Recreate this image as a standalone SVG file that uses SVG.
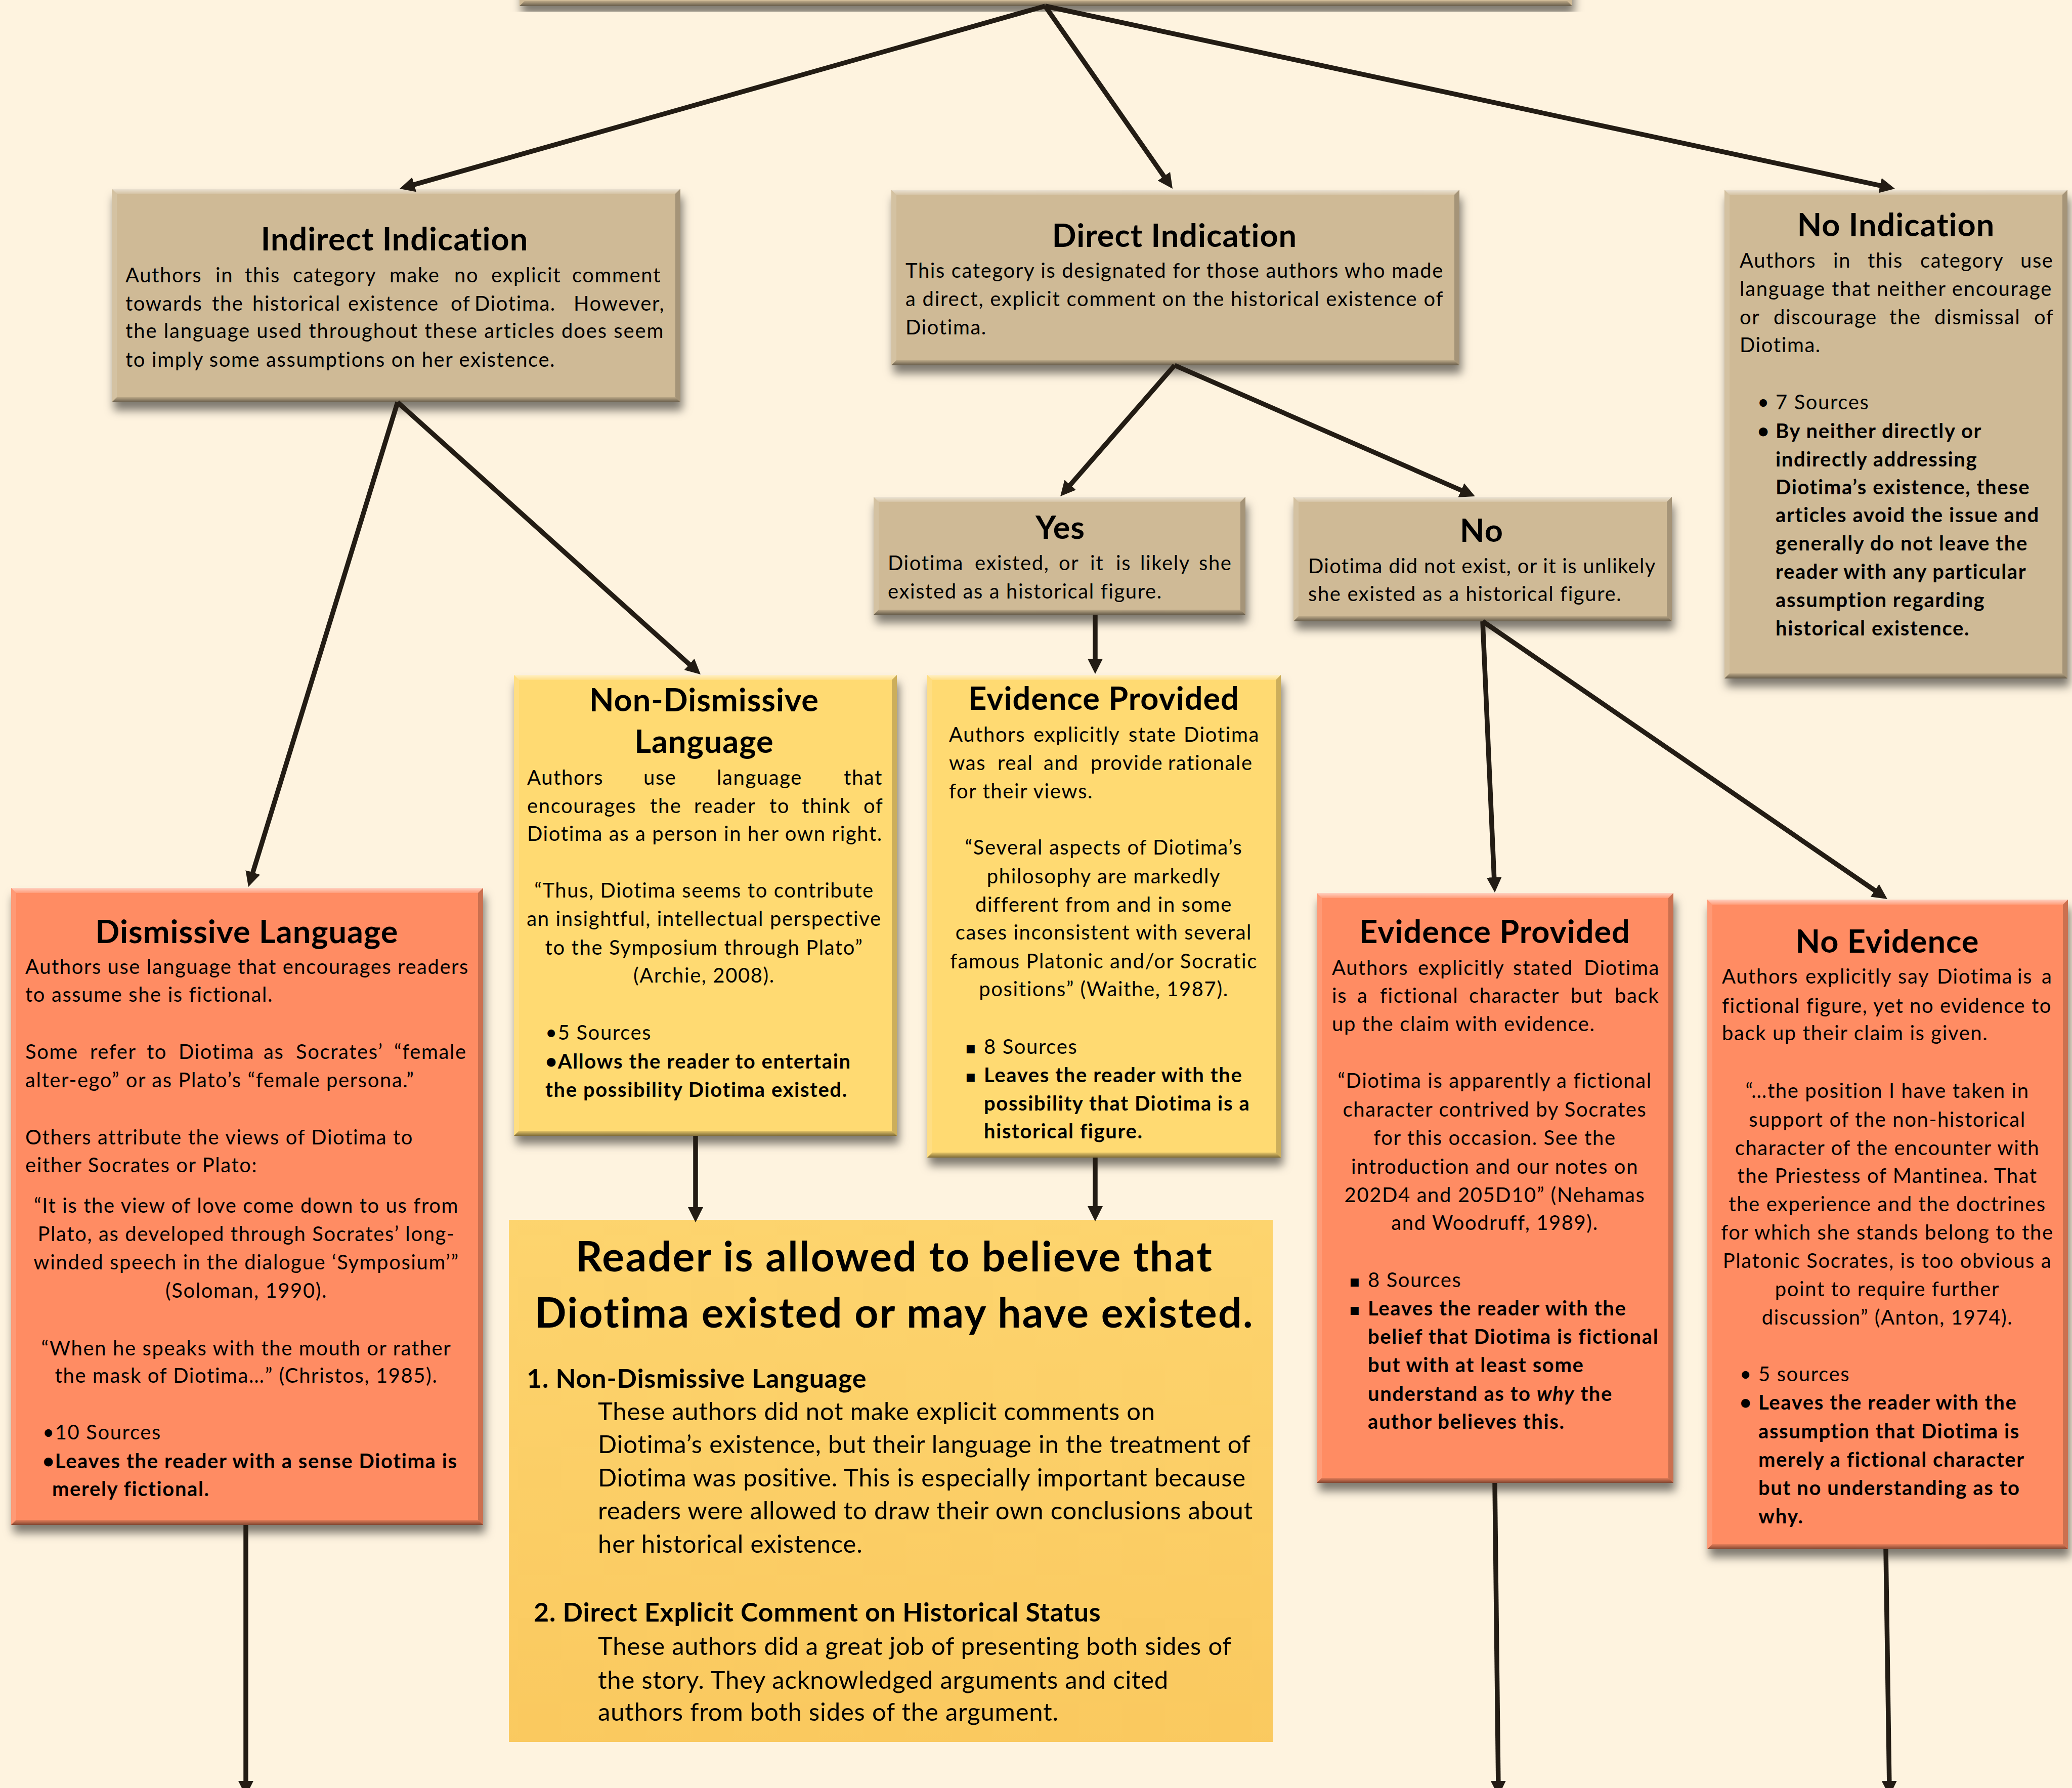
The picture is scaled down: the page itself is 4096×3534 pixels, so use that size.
<svg xmlns="http://www.w3.org/2000/svg" width="4096" height="3534" viewBox="0 0 4096 3534">
<defs>
<style>
text{font-family:Lato,'Open Sans','DejaVu Sans',sans-serif;fill:#000}
.h{font-size:63px;font-weight:bold;text-anchor:middle;letter-spacing:1px}
.b{font-size:40px;letter-spacing:1.6px}
.bb{font-size:40px;font-weight:bold;letter-spacing:1.6px}
.c{text-anchor:middle}
.sq{font-family:'DejaVu Sans',sans-serif;font-size:32px}
.bt{font-size:82px;font-weight:bold;text-anchor:middle;letter-spacing:2.4px}
.bh{font-size:52px;font-weight:bold;letter-spacing:0.8px}
.bx{font-size:49px;letter-spacing:0.8px}
.tan{fill:#CFBA96}
.yel{fill:#FFDA72}
.ora{fill:#FF8C64}
.bvT{fill:url(#gT)}
.bvB{fill:url(#gB)}
.bvL{fill:#fff;fill-opacity:0.12}
.bvR{fill:#000;fill-opacity:0.2}
.con line{stroke:#231C14;stroke-width:9.5;fill:none;marker-end:url(#ah)}
</style>
<linearGradient id="gT" x1="0" y1="0" x2="0" y2="1"><stop offset="0" stop-color="#fff" stop-opacity="0.6"/><stop offset="1" stop-color="#fff" stop-opacity="0.15"/></linearGradient>
<linearGradient id="gB" x1="0" y1="0" x2="0" y2="1"><stop offset="0" stop-color="#000" stop-opacity="0.1"/><stop offset="1" stop-color="#000" stop-opacity="0.5"/></linearGradient>
<linearGradient id="gBig" x1="0" y1="0" x2="0" y2="1"><stop offset="0" stop-color="#FDD46E"/><stop offset="1" stop-color="#FAC95F"/></linearGradient>
<filter id="sh" x="-5%" y="-5%" width="112%" height="120%"><feDropShadow dx="4" dy="16" stdDeviation="9" flood-color="#000" flood-opacity="0.5"/></filter>
<marker id="ah" viewBox="0 0 30 30" refX="15" refY="15" markerUnits="userSpaceOnUse" markerWidth="30" markerHeight="30" orient="auto"><path d="M0,0 L30,15 L0,30 z" fill="#231C14"/></marker>
</defs>
<rect x="0" y="0" width="4096" height="3534" fill="#FEF3DF"/>

<g id="top">
<rect class="tan" x="1027" y="-60" width="2081" height="72" filter="url(#sh)"/>
<polygon class="bvB" points="1027,12 3108,12 3098,2 1037,2"/>
</g>

<g id="indirect">
<rect class="tan" x="221" y="373" width="1124" height="422" filter="url(#sh)"/>
<polygon class="bvT" points="221,373 1345,373 1335,383 231,383"/>
<polygon class="bvB" points="221,795 1345,795 1335,785 231,785"/>
<polygon class="bvL" points="221,373 231,383 231,785 221,795"/>
<polygon class="bvR" points="1345,373 1335,383 1335,785 1345,795"/>
<text class="h" x="780" y="495">Indirect Indication</text>
<text class="b" y="558"><tspan x="248">Authors</tspan> <tspan x="426">in</tspan> <tspan x="484">this</tspan> <tspan x="579">category</tspan> <tspan x="770">make</tspan> <tspan x="898">no</tspan> <tspan x="971">explicit</tspan> <tspan x="1131">comment</tspan></text>
<text class="b" y="614"><tspan x="248">towards</tspan> <tspan x="419">the</tspan> <tspan x="499">historical</tspan> <tspan x="688">existence</tspan> <tspan x="891">of</tspan> <tspan x="938">Diotima.</tspan> <tspan x="1134">However,</tspan></text>
<text class="b" x="248" y="668" textLength="1065" lengthAdjust="spacing">the language used throughout these articles does seem</text>
<text class="b" x="248" y="725">to imply some assumptions on her existence.</text>
</g>

<g id="direct">
<rect class="tan" x="1762" y="375" width="1123" height="347" filter="url(#sh)"/>
<polygon class="bvT" points="1762,375 2885,375 2875,385 1772,385"/>
<polygon class="bvB" points="1762,722 2885,722 2875,712 1772,712"/>
<polygon class="bvL" points="1762,375 1772,385 1772,712 1762,722"/>
<polygon class="bvR" points="2885,375 2875,385 2875,712 2885,722"/>
<text class="h" x="2322" y="488">Direct Indication</text>
<text class="b" x="1790" y="549" textLength="1064" lengthAdjust="spacing">This category is designated for those authors who made</text>
<text class="b" x="1790" y="605" textLength="1064" lengthAdjust="spacing">a direct, explicit comment on the historical existence of</text>
<text class="b" x="1790" y="661">Diotima.</text>
</g>

<g id="noind">
<rect class="tan" x="3409" y="375" width="678" height="966" filter="url(#sh)"/>
<polygon class="bvT" points="3409,375 4087,375 4077,385 3419,385"/>
<polygon class="bvB" points="3409,1341 4087,1341 4077,1331 3419,1331"/>
<polygon class="bvL" points="3409,375 3419,385 3419,1331 3409,1341"/>
<polygon class="bvR" points="4087,375 4077,385 4077,1331 4087,1341"/>
<text class="h" x="3748" y="467">No Indication</text>
<text class="b" y="529"><tspan x="3439">Authors</tspan> <tspan x="3624">in</tspan> <tspan x="3692">this</tspan> <tspan x="3796">category</tspan> <tspan x="3994">use</tspan></text>
<text class="b" x="3439" y="585" textLength="618" lengthAdjust="spacing">language that neither encourage</text>
<text class="b" y="641"><tspan x="3439">or</tspan> <tspan x="3506">discourage</tspan> <tspan x="3735">the</tspan> <tspan x="3824">dismissal</tspan> <tspan x="4021">of</tspan></text>
<text class="b" x="3439" y="696">Diotima.</text>
<text class="b" x="3474" y="809">•</text><text class="b" x="3510" y="809">7 Sources</text>
<text class="bb" x="3474" y="866">•</text>
<text class="bb" x="3510" y="866">By neither directly or</text>
<text class="bb" x="3510" y="922">indirectly addressing</text>
<text class="bb" x="3510" y="977">Diotima’s existence, these</text>
<text class="bb" x="3510" y="1032">articles avoid the issue and</text>
<text class="bb" x="3510" y="1088">generally do not leave the</text>
<text class="bb" x="3510" y="1144">reader with any particular</text>
<text class="bb" x="3510" y="1200">assumption regarding</text>
<text class="bb" x="3510" y="1256">historical existence.</text>
</g>

<g id="yes">
<rect class="tan" x="1727" y="982" width="735" height="233" filter="url(#sh)"/>
<polygon class="bvT" points="1727,982 2462,982 2452,992 1737,992"/>
<polygon class="bvB" points="1727,1215 2462,1215 2452,1205 1737,1205"/>
<polygon class="bvL" points="1727,982 1737,992 1737,1205 1727,1215"/>
<polygon class="bvR" points="2462,982 2452,992 2452,1205 2462,1215"/>
<text class="h" x="2096" y="1065">Yes</text>
<text class="b" y="1127"><tspan x="1755">Diotima</tspan> <tspan x="1927">existed,</tspan> <tspan x="2093">or</tspan> <tspan x="2155">it</tspan> <tspan x="2206">is</tspan> <tspan x="2254">likely</tspan> <tspan x="2370">she</tspan></text>
<text class="b" x="1755" y="1183">existed as a historical figure.</text>
</g>

<g id="no">
<rect class="tan" x="2557" y="982" width="748" height="246" filter="url(#sh)"/>
<polygon class="bvT" points="2557,982 3305,982 3295,992 2567,992"/>
<polygon class="bvB" points="2557,1228 3305,1228 3295,1218 2567,1218"/>
<polygon class="bvL" points="2557,982 2567,992 2567,1218 2557,1228"/>
<polygon class="bvR" points="3305,982 3295,992 3295,1218 3305,1228"/>
<text class="h" x="2929" y="1071">No</text>
<text class="b" x="2586" y="1133" textLength="688" lengthAdjust="spacing">Diotima did not exist, or it is unlikely</text>
<text class="b" x="2586" y="1188">she existed as a historical figure.</text>
</g>

<g id="nondismissive">
<rect class="yel" x="1016" y="1334" width="757" height="911" filter="url(#sh)"/>
<polygon class="bvT" points="1016,1334 1773,1334 1763,1344 1026,1344"/>
<polygon class="bvB" points="1016,2245 1773,2245 1763,2235 1026,2235"/>
<polygon class="bvL" points="1016,1334 1026,1344 1026,2235 1016,2245"/>
<polygon class="bvR" points="1773,1334 1763,1344 1763,2235 1773,2245"/>
<text class="h" x="1392" y="1406">Non-Dismissive</text>
<text class="h" x="1392" y="1488">Language</text>
<text class="b" y="1551"><tspan x="1042">Authors</tspan> <tspan x="1272">use</tspan> <tspan x="1417">language</tspan> <tspan x="1668">that</tspan></text>
<text class="b" y="1607"><tspan x="1042">encourages</tspan> <tspan x="1285">the</tspan> <tspan x="1372">reader</tspan> <tspan x="1521">to</tspan> <tspan x="1585">think</tspan> <tspan x="1707">of</tspan></text>
<text class="b" x="1042" y="1662">Diotima as a person in her own right.</text>
<text class="b c" x="1392" y="1774">“Thus, Diotima seems to contribute</text>
<text class="b c" x="1392" y="1830">an insightful, intellectual perspective</text>
<text class="b c" x="1392" y="1887">to the Symposium through Plato”</text>
<text class="b c" x="1392" y="1942">(Archie, 2008).</text>
<text class="b" x="1078" y="2055">•5 Sources</text>
<text class="bb" x="1078" y="2112">•Allows the reader to entertain</text>
<text class="bb" x="1078" y="2168">the possibility Diotima existed.</text>
</g>

<g id="evidenceyes">
<rect class="yel" x="1833" y="1334" width="699" height="954" filter="url(#sh)"/>
<polygon class="bvT" points="1833,1334 2532,1334 2522,1344 1843,1344"/>
<polygon class="bvB" points="1833,2288 2532,2288 2522,2278 1843,2278"/>
<polygon class="bvL" points="1833,1334 1843,1344 1843,2278 1833,2288"/>
<polygon class="bvR" points="2532,1334 2522,1344 2522,2278 2532,2288"/>
<text class="h" x="2182" y="1403">Evidence Provided</text>
<text class="b" y="1466"><tspan x="1876">Authors</tspan> <tspan x="2043">explicitly</tspan> <tspan x="2231">state</tspan> <tspan x="2340">Diotima</tspan></text>
<text class="b" y="1522"><tspan x="1876">was</tspan> <tspan x="1972">real</tspan> <tspan x="2063">and</tspan> <tspan x="2156">provide</tspan> <tspan x="2309">rationale</tspan></text>
<text class="b" x="1876" y="1578">for their views.</text>
<text class="b c" x="2182" y="1689">“Several aspects of Diotima’s</text>
<text class="b c" x="2182" y="1746">philosophy are markedly</text>
<text class="b c" x="2182" y="1802">different from and in some</text>
<text class="b c" x="2182" y="1857">cases inconsistent with several</text>
<text class="b c" x="2182" y="1914">famous Platonic and/or Socratic</text>
<text class="b c" x="2182" y="1969">positions” (Waithe, 1987).</text>
<text class="sq" x="1908" y="2082">▪</text><text class="b" x="1945" y="2083">8 Sources</text>
<text class="sq" x="1908" y="2138">▪</text>
<text class="bb" x="1945" y="2139">Leaves the reader with the</text>
<text class="bb" x="1945" y="2195">possibility that Diotima is a</text>
<text class="bb" x="1945" y="2250">historical figure.</text>
</g>

<g id="reader">
<rect x="1006" y="2411" width="1510" height="1032" fill="url(#gBig)"/>
<text class="bt" x="1768" y="2513">Reader is allowed to believe that</text>
<text class="bt" x="1768" y="2624">Diotima existed or may have existed.</text>
<text class="bh" x="1041" y="2743">1. Non-Dismissive Language</text>
<text class="bx" x="1182" y="2807">These authors did not make explicit comments on</text>
<text class="bx" x="1182" y="2872">Diotima’s existence, but their language in the treatment of</text>
<text class="bx" x="1182" y="2938">Diotima was positive.  This is especially important because</text>
<text class="bx" x="1182" y="3003">readers were allowed to draw their own conclusions about</text>
<text class="bx" x="1182" y="3069">her historical existence.</text>
<text class="bh" x="1055" y="3205">2. Direct Explicit Comment on Historical Status</text>
<text class="bx" x="1182" y="3271">These authors did a great job of presenting both sides of</text>
<text class="bx" x="1182" y="3338">the story.  They acknowledged arguments and cited</text>
<text class="bx" x="1182" y="3401">authors from both sides of the argument.</text>
</g>

<g id="dismissive">
<rect class="ora" x="22" y="1755" width="933" height="1259" filter="url(#sh)"/>
<polygon class="bvT" points="22,1755 955,1755 945,1765 32,1765"/>
<polygon class="bvB" points="22,3014 955,3014 945,3004 32,3004"/>
<polygon class="bvL" points="22,1755 32,1765 32,3004 22,3014"/>
<polygon class="bvR" points="955,1755 945,1765 945,3004 955,3014"/>
<text class="h" x="488" y="1864">Dismissive Language</text>
<text class="b" x="50" y="1925" textLength="877" lengthAdjust="spacing">Authors use language that encourages readers</text>
<text class="b" x="50" y="1980">to assume she is fictional.</text>
<text class="b" y="2093"><tspan x="50">Some</tspan> <tspan x="178">refer</tspan> <tspan x="290">to</tspan> <tspan x="353">Diotima</tspan> <tspan x="521">as</tspan> <tspan x="585">Socrates’</tspan> <tspan x="779">“female</tspan></text>
<text class="b" x="50" y="2149">alter-ego” or as Plato’s “female persona.”</text>
<text class="b" x="50" y="2262">Others attribute the views of Diotima to</text>
<text class="b" x="50" y="2317">either Socrates or Plato:</text>
<text class="b c" x="487" y="2397">“It is the view of love come down to us from</text>
<text class="b c" x="487" y="2453">Plato, as developed through Socrates’ long-</text>
<text class="b c" x="487" y="2509">winded speech in the dialogue ‘Symposium’”</text>
<text class="b c" x="487" y="2565">(Soloman, 1990).</text>
<text class="b c" x="487" y="2679">“When he speaks with the mouth or rather</text>
<text class="b c" x="487" y="2733">the mask of Diotima…” (Christos, 1985).</text>
<text class="b" x="84" y="2845">•10 Sources</text>
<text class="bb" x="84" y="2902">•Leaves the reader with a sense Diotima is</text>
<text class="bb" x="103" y="2957">merely fictional.</text>
</g>

<g id="evidenceno">
<rect class="ora" x="2603" y="1765" width="705" height="1166" filter="url(#sh)"/>
<polygon class="bvT" points="2603,1765 3308,1765 3298,1775 2613,1775"/>
<polygon class="bvB" points="2603,2931 3308,2931 3298,2921 2613,2921"/>
<polygon class="bvL" points="2603,1765 2613,1775 2613,2921 2603,2931"/>
<polygon class="bvR" points="3308,1765 3298,1775 3298,2921 3308,2931"/>
<text class="h" x="2955" y="1864">Evidence Provided</text>
<text class="b" y="1927"><tspan x="2633">Authors</tspan> <tspan x="2803">explicitly</tspan> <tspan x="2991">stated</tspan> <tspan x="3131">Diotima</tspan></text>
<text class="b" y="1982"><tspan x="2633">is</tspan> <tspan x="2683">a</tspan> <tspan x="2728">fictional</tspan> <tspan x="2904">character</tspan> <tspan x="3105">but</tspan> <tspan x="3192">back</tspan></text>
<text class="b" x="2633" y="2038">up the claim with evidence.</text>
<text class="b c" x="2955" y="2150">“Diotima is apparently a fictional</text>
<text class="b c" x="2955" y="2207">character contrived by Socrates</text>
<text class="b c" x="2955" y="2263">for this occasion.  See the</text>
<text class="b c" x="2955" y="2320">introduction and our notes on</text>
<text class="b c" x="2955" y="2376">202D4 and 205D10” (Nehamas</text>
<text class="b c" x="2955" y="2431">and Woodruff, 1989).</text>
<text class="sq" x="2667" y="2543">▪</text><text class="b" x="2704" y="2544">8 Sources</text>
<text class="sq" x="2667" y="2599">▪</text>
<text class="bb" x="2704" y="2600">Leaves the reader with the</text>
<text class="bb" x="2704" y="2656">belief that Diotima is fictional</text>
<text class="bb" x="2704" y="2712">but with at least some</text>
<text class="bb" x="2704" y="2769">understand as to <tspan font-style="italic">why</tspan> the</text>
<text class="bb" x="2704" y="2824">author believes this.</text>
</g>

<g id="noevidence">
<rect class="ora" x="3375" y="1778" width="713" height="1284" filter="url(#sh)"/>
<polygon class="bvT" points="3375,1778 4088,1778 4078,1788 3385,1788"/>
<polygon class="bvB" points="3375,3062 4088,3062 4078,3052 3385,3052"/>
<polygon class="bvL" points="3375,1778 3385,1788 3385,3052 3375,3062"/>
<polygon class="bvR" points="4088,1778 4078,1788 4078,3052 4088,3062"/>
<text class="h" x="3731" y="1883">No Evidence</text>
<text class="b" y="1944"><tspan x="3404">Authors</tspan> <tspan x="3569">explicitly</tspan> <tspan x="3752">say</tspan> <tspan x="3829">Diotima</tspan> <tspan x="3988">is</tspan> <tspan x="4036">a</tspan></text>
<text class="b" x="3404" y="2002" textLength="652" lengthAdjust="spacing">fictional figure, yet no evidence to</text>
<text class="b" x="3404" y="2056">back up their claim is given.</text>
<text class="b c" x="3731" y="2170">“…the position I have taken in</text>
<text class="b c" x="3731" y="2227">support of the non-historical</text>
<text class="b c" x="3731" y="2283">character of the encounter with</text>
<text class="b c" x="3731" y="2338">the Priestess of Mantinea.  That</text>
<text class="b c" x="3731" y="2394">the experience and the doctrines</text>
<text class="b c" x="3731" y="2450">for which she stands belong to the</text>
<text class="b c" x="3731" y="2506">Platonic Socrates, is too obvious a</text>
<text class="b c" x="3731" y="2562">point to require further</text>
<text class="b c" x="3731" y="2618">discussion” (Anton, 1974).</text>
<text class="b" x="3439" y="2730">•</text><text class="b" x="3476" y="2730">5 sources</text>
<text class="bb" x="3439" y="2786">•</text>
<text class="bb" x="3476" y="2786">Leaves the reader with the</text>
<text class="bb" x="3476" y="2843">assumption that Diotima is</text>
<text class="bb" x="3476" y="2899">merely a fictional character</text>
<text class="bb" x="3476" y="2955">but no understanding as to</text>
<text class="bb" x="3476" y="3011">why.</text>
</g>

<g id="connectors" class="con">
<line x1="2066" y1="12" x2="804.4" y2="368.9"/>
<line x1="2066" y1="12" x2="2309.4" y2="360.7"/>
<line x1="2066" y1="12" x2="3731.3" y2="369.8"/>
<line x1="786" y1="795" x2="495.4" y2="1738.7"/>
<line x1="786" y1="795" x2="1373.8" y2="1323"/>
<line x1="2322" y1="722" x2="2105.9" y2="969.7"/>
<line x1="2322" y1="722" x2="2902.2" y2="975"/>
<line x1="2165" y1="1215" x2="2165" y2="1317"/>
<line x1="2931" y1="1228" x2="2954.3" y2="1749"/>
<line x1="2931" y1="1228" x2="3718.6" y2="1768.5"/>
<line x1="1375" y1="2245" x2="1375" y2="2401"/>
<line x1="2165" y1="2288" x2="2165" y2="2399"/>
<line x1="486" y1="3014" x2="486" y2="3535"/>
<line x1="2955" y1="2931" x2="2962" y2="3535"/>
<line x1="3728" y1="3062" x2="3735" y2="3535"/>
</g>
</svg>
